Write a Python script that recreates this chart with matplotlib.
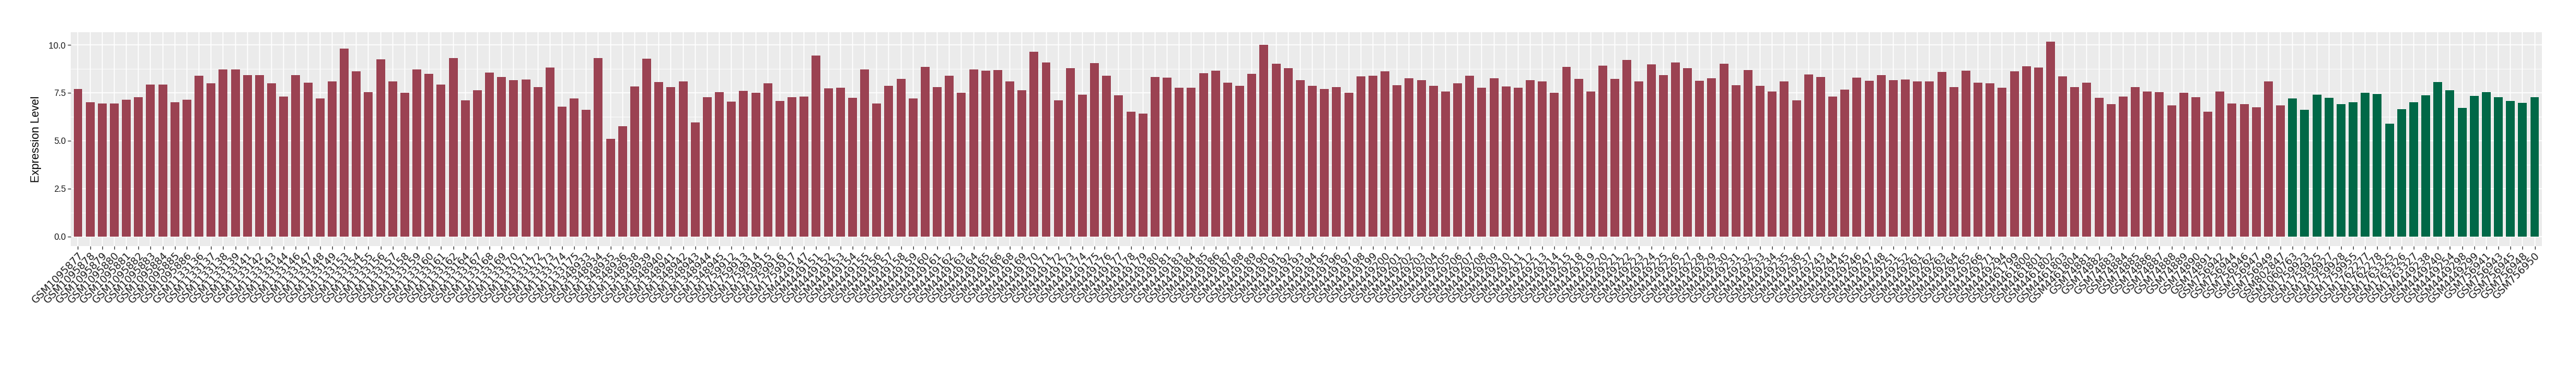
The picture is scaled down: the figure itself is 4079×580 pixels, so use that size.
import matplotlib
matplotlib.use("Agg")
import matplotlib.pyplot as plt
import numpy as np

tumor_samples = [
    "GSM1095877", "GSM1095878", "GSM1095879", "GSM1095880", "GSM1095881", "GSM1095882",
    "GSM1095883", "GSM1095884", "GSM1095885", "GSM1095886",
    "GSM1133136", "GSM1133137", "GSM1133138", "GSM1133139", "GSM1133141", "GSM1133142",
    "GSM1133143", "GSM1133144", "GSM1133146", "GSM1133147", "GSM1133148", "GSM1133149",
    "GSM1133153", "GSM1133154", "GSM1133155", "GSM1133156", "GSM1133157", "GSM1133158",
    "GSM1133159", "GSM1133160", "GSM1133161", "GSM1133162", "GSM1133164", "GSM1133167",
    "GSM1133168", "GSM1133169", "GSM1133170", "GSM1133171", "GSM1133172", "GSM1133173",
    "GSM1133174", "GSM1133175",
    "GSM1348933", "GSM1348934", "GSM1348935", "GSM1348936", "GSM1348938", "GSM1348939",
    "GSM1348940", "GSM1348941", "GSM1348942", "GSM1348943", "GSM1348944", "GSM1348945",
    "GSM1759912", "GSM1759913", "GSM1759914", "GSM1759915", "GSM1759916", "GSM1759917",
    "GSM4449147", "GSM4449151", "GSM4449152", "GSM4449153", "GSM4449154", "GSM4449155",
    "GSM4449156", "GSM4449157", "GSM4449158", "GSM4449159", "GSM4449160", "GSM4449161",
    "GSM4449162", "GSM4449163", "GSM4449164", "GSM4449165", "GSM4449166", "GSM4449168",
    "GSM4449169", "GSM4449170", "GSM4449171", "GSM4449172", "GSM4449173", "GSM4449174",
    "GSM4449175", "GSM4449176", "GSM4449177", "GSM4449178", "GSM4449179", "GSM4449180",
    "GSM4449181", "GSM4449183", "GSM4449184", "GSM4449185", "GSM4449186", "GSM4449187",
    "GSM4449188", "GSM4449189", "GSM4449190", "GSM4449191", "GSM4449192", "GSM4449193",
    "GSM4449194", "GSM4449195", "GSM4449196", "GSM4449197", "GSM4449198", "GSM4449199",
    "GSM4449200", "GSM4449201", "GSM4449202", "GSM4449203", "GSM4449204", "GSM4449205",
    "GSM4449206", "GSM4449207", "GSM4449208", "GSM4449209", "GSM4449210", "GSM4449211",
    "GSM4449212", "GSM4449213", "GSM4449214", "GSM4449215", "GSM4449218", "GSM4449219",
    "GSM4449220", "GSM4449221", "GSM4449222", "GSM4449223", "GSM4449224", "GSM4449225",
    "GSM4449226", "GSM4449227", "GSM4449228", "GSM4449229", "GSM4449230", "GSM4449231",
    "GSM4449232", "GSM4449233", "GSM4449234", "GSM4449235", "GSM4449236", "GSM4449237",
    "GSM4449243", "GSM4449244", "GSM4449245", "GSM4449246", "GSM4449247", "GSM4449248",
    "GSM4449251", "GSM4449252", "GSM4449261", "GSM4449262", "GSM4449263", "GSM4449264",
    "GSM4449265", "GSM4449266", "GSM4449271", "GSM4449294",
    "GSM4461799", "GSM4461800", "GSM4461801", "GSM4461802", "GSM4461803", "GSM4461804",
    "GSM74881", "GSM74882", "GSM74883", "GSM74884", "GSM74885", "GSM74886",
    "GSM74887", "GSM74888", "GSM74889", "GSM74890", "GSM74891",
    "GSM756942", "GSM756944", "GSM756946", "GSM756947", "GSM756949", "GSM802847",
]

tumor_values = [
    7.70, 7.00, 6.95, 6.95, 7.12, 7.28, 7.93, 7.93, 7.00, 7.12,
    8.38, 7.99, 8.73, 8.73, 8.43, 8.43, 7.99, 7.30, 8.43, 8.01,
    7.21, 8.10, 9.80, 8.61, 7.54, 9.23, 8.08, 7.49, 8.73, 8.50,
    7.93, 9.30, 7.09, 7.63, 8.55, 8.31, 8.17, 8.20, 7.78, 8.81,
    6.77, 7.19, 6.60, 9.30, 5.08, 5.76,
    7.84, 9.26, 8.05, 7.80, 8.08, 5.94, 7.28, 7.54, 7.04, 7.60,
    7.51, 7.99, 7.07, 7.28, 7.30, 9.44, 7.72, 7.75, 7.24, 8.73,
    6.95, 7.87, 8.22, 7.19, 8.85, 7.78, 8.40,
    7.51, 8.73, 8.64, 8.69, 8.08, 7.63, 9.65, 9.09, 7.09, 8.79,
    7.40, 9.06, 8.40, 7.37, 6.50, 6.41, 8.31, 8.29, 7.75, 7.75,
    8.52, 8.64, 8.01, 7.87, 8.50, 10.00,
    9.02, 8.79, 8.17, 7.87, 7.70, 7.80, 7.49, 8.34, 8.38, 8.61,
    7.89, 8.25, 8.17, 7.87, 7.57, 7.99, 8.40, 7.75, 8.25, 7.84,
    7.75, 8.17, 8.08, 7.51, 8.85, 8.22,
    7.57, 8.90, 8.22, 9.20, 8.10, 8.97, 8.43, 9.09, 8.79, 8.13,
    8.25, 9.00, 7.89, 8.69, 7.87, 7.57, 8.08, 7.09, 8.46, 8.31,
    7.30, 7.66, 8.29, 8.13, 8.43, 8.17,
    8.20, 8.08, 8.08, 8.58, 7.78, 8.64, 8.01, 7.99, 7.75, 8.61,
    8.88, 8.81, 10.15, 8.34, 7.80, 8.01, 7.24, 6.92, 7.30, 7.78,
    7.57, 7.54, 6.83, 7.49, 7.28, 6.50,
    7.57, 6.95, 6.89, 6.74, 8.10, 6.83,
]

normal_samples = [
    "GSM1060763", "GSM1759923", "GSM1759925", "GSM1759927", "GSM1759928", "GSM1759955",
    "GSM1762277", "GSM1762278", "GSM1763325", "GSM1763326", "GSM1763327", "GSM4449238",
    "GSM4449240", "GSM4449254", "GSM4449298", "GSM4449299", "GSM756941", "GSM756943",
    "GSM756945", "GSM756948", "GSM756950",
]

normal_values = [
    7.19, 6.62, 7.40, 7.24, 6.92, 7.00, 7.51, 7.42, 5.88, 6.65,
    7.00, 7.37, 8.05, 7.63, 6.71, 7.33, 7.54, 7.28, 7.07, 6.98, 7.28,
]

tumor_color = "#9B4252"
normal_color = "#006847"
y_ticks = [0.0, 2.5, 5.0, 7.5, 10.0]
y_label = "Expression Level"

labels = tumor_samples + normal_samples
values = tumor_values + normal_values
colors = [tumor_color] * len(tumor_samples) + [normal_color] * len(normal_samples)
n = len(labels)
x = np.arange(n)

W, H = 4080, 580
fig = plt.figure(figsize=(W / 100, H / 100), dpi=100)
left, right = 112 / W, 4025 / W
bottom, top = 1 - 390 / H, 1 - 51 / H
ax = fig.add_axes([left, bottom, right - left, top - bottom])

ax.set_facecolor("#EBEBEB")
ax.bar(x, values, width=0.73, color=colors, zorder=3)

ax.set_xlim(-0.6, n - 1 + 0.6)
ax.set_ylim(-0.51, 10.66)

ax.set_yticks(y_ticks)
ax.set_yticks([1.25, 3.75, 6.25, 8.75], minor=True)
ax.set_yticklabels([f"{v:.1f}" for v in y_ticks], fontsize=10, family="Liberation Sans", color="#1a1a1a")
ax.set_xticks(x)
ax.set_xticklabels(labels, rotation=45, ha="right", va="top", rotation_mode="anchor",
                   fontsize=11.5, family="DejaVu Sans", color="#1a1a1a")

ax.grid(which="major", axis="both", color="white", linewidth=1.1, zorder=1)
ax.grid(which="minor", axis="y", color="white", linewidth=0.55, zorder=1)
ax.set_axisbelow(True)

for s in ax.spines.values():
    s.set_visible(False)
ax.tick_params(axis="both", which="major", length=3.5, width=0.9, color="#333333", pad=2)
ax.tick_params(axis="y", which="minor", length=0)

ax.set_ylabel(y_label, fontsize=13, family="Liberation Sans", color="black", labelpad=8)

fig.savefig("out.png", dpi=100, facecolor="white")
